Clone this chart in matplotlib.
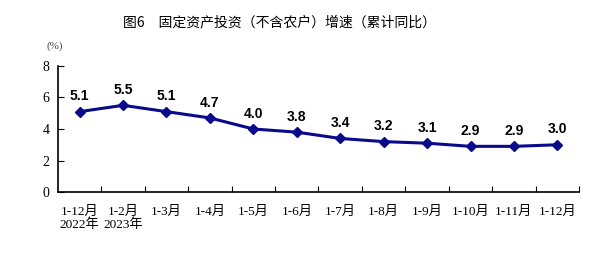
import matplotlib.pyplot as plt

months = ["1-12月\n2022年", "1-2月\n2023年", "1-3月", "1-4月", "1-5月", "1-6月",
          "1-7月", "1-8月", "1-9月", "1-10月", "1-11月", "1-12月"]
growth = [5.1, 5.5, 5.1, 4.7, 4.0, 3.8, 3.4, 3.2, 3.1, 2.9, 2.9, 3.0]
yticks = [0, 2, 4, 6, 8]

serif = ['Liberation Serif', 'Noto Sans CJK SC']
cjk = ['Noto Sans CJK SC', 'DejaVu Sans']

fig = plt.figure(figsize=(5.97, 2.78), dpi=100)
ax = fig.add_axes([0.097, 0.309, 0.873, 0.454])

x = list(range(len(growth)))
ax.plot(x, growth, color='#0a0a8c', linewidth=2.2, marker='D', markersize=5)
for xi, v in zip(x, growth):
    ax.annotate(f"{v:.1f}", (xi, v), xytext=(0, 6), textcoords='offset points',
                ha='center', va='bottom', fontsize=10, fontweight='bold',
                family='Liberation Sans')

ax.set_xlim(-0.5, len(growth) - 0.5)
ax.set_ylim(0, 8)
ax.set_yticks(yticks)
ax.set_yticklabels([str(t) for t in yticks], family=serif, fontsize=10)
ax.set_xticks([i + 0.5 for i in x])
ax.set_xticklabels([])
ax.set_xticks(x, minor=True)
ax.set_xticklabels(months, minor=True, family=serif, fontsize=9.5, linespacing=1.0)
ax.tick_params(axis='x', which='minor', length=0, pad=10)
ax.tick_params(axis='x', which='major', direction='in', length=4)
ax.tick_params(axis='y', direction='in', length=4, pad=6)

for s in ['top', 'right']:
    ax.spines[s].set_visible(False)
for s in ['left', 'bottom']:
    ax.spines[s].set_linewidth(1.2)

fig.text(0.468, 0.92, "图6　固定资产投资（不含农户）增速（累计同比）",
         ha='center', va='center', fontsize=10, family=cjk)
fig.text(0.092, 0.835, "(%)", ha='center', va='center', fontsize=8, family=serif,
         color='#444444')

fig.savefig('out.png', dpi=100)
